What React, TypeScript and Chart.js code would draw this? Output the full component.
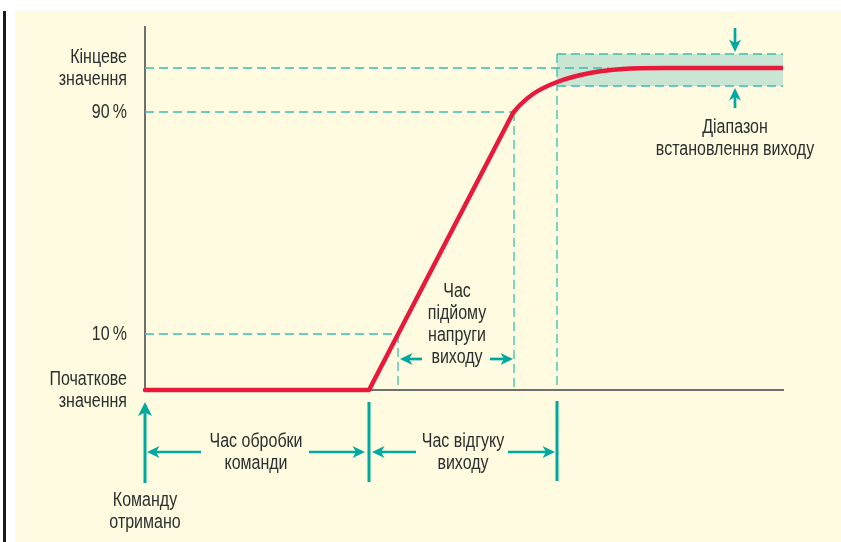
import React, { useEffect, useRef } from 'react';
import { Chart, registerables } from 'chart.js';

Chart.register(...registerables);

const FONT = "'Liberation Sans', Arial, 'DejaVu Sans', sans-serif";
const FONT_SIZE = 20;
const TEXT_SX = 0.8; // condensed look
const TEXT = '#2e2e2e';
const RED = '#e81a3b';
const TEAL = '#00a99d';
const GUIDE = '#3dbdaf';
const BAND = '#c8e6d3';
const AXIS = '#6f6f70';

// Scale extents (schematic time / output units)
const X_MAX = 638;
const Y_MAX = 363;

// Output levels on the y axis
const levelValues = [0, 56, 278, 322];
const levelLabels: string[][] = [['Початкове', 'значення'], ['10\u2009%'], ['90\u2009%'], ['Кінцеве', 'значення']];

// Output curve: idle + linear ramp
const rampX = [0, 224, 368];
const rampY = [0, 0, 277];
// Output curve: settling
const settleX = [368, 375, 388, 412, 445, 478, 520, 638];
const settleY = [277, 285, 296, 308, 317, 321, 322, 322];

// Settling band
const bandX = [412, 638];
const bandHigh = 336;
const bandLow = 304;

// Dashed guide segments [x1, y1, x2, y2]
const guideSegments = [
  [0, 322, 464, 322],
  [0, 278, 368, 278],
  [0, 56, 253, 56],
  [253, 56, 253, 0],
  [369, 278, 369, 0],
  [412, 336, 412, 0],
];

// Arrows [fromX, fromY, tipX, tipY]
const arrowSegments = [
  [0, -93, 0, -12],
  [56, -62, 2, -62],
  [164, -62, 220, -62],
  [271, -62, 227, -62],
  [363, -62, 410, -62],
  [277, 31, 255, 31],
  [345, 31, 368, 31],
  [590, 362, 590, 338],
  [590, 282, 590, 302],
];
// Vertical marker bars [x, y1, y2]
const markerBars = [
  [224, -12, -92],
  [412, -11, -91],
];
// Notes: x, first line y, lines
const notes: { x: number; y: number; lines: string[] }[] = [
  { x: 0, y: -110, lines: ['Команду', 'отримано'] },
  { x: 111, y: -51, lines: ['Час обробки', 'команди'] },
  { x: 318, y: -51, lines: ['Час відгуку', 'виходу'] },
  { x: 312, y: 99, lines: ['Час', 'підйому', 'напруги', 'виходу'] },
  { x: 590, y: 263, lines: ['Діапазон', 'встановлення виходу'] },
];
const LINE_GAP = 22;

const toPts = (xs: number[], ys: number[]) => xs.map((x, i) => ({ x, y: ys[i] }));

function drawText(ctx: CanvasRenderingContext2D, t: string, x: number, y: number) {
  ctx.save();
  ctx.translate(x, y);
  ctx.scale(TEXT_SX, 1);
  ctx.fillText(t, 0, 0);
  ctx.restore();
}

const annotations = {
  id: 'annotations',
  afterDatasetsDraw(chart: any) {
    const { ctx, scales } = chart;
    const xs = scales.x;
    const ys = scales.y;
    const px = (v: number) => xs.getPixelForValue(v);
    const py = (v: number) => ys.getPixelForValue(v);
    ctx.save();
    ctx.strokeStyle = TEAL;
    ctx.fillStyle = TEAL;
    ctx.lineCap = 'butt';
    for (const [x1, y1, x2, y2] of arrowSegments) {
      const ax = px(x1), ay = py(y1), bx = px(x2), by = py(y2);
      const ang = Math.atan2(by - ay, bx - ax);
      const cos = Math.cos(ang), sin = Math.sin(ang);
      const big = Math.abs(by - ay) > 40;
      const L = big ? 14 : 12.5;
      const W = big ? 7 : 6;
      const notch = 3.5;
      ctx.lineWidth = big ? 3 : 2.7;
      ctx.beginPath();
      ctx.moveTo(ax, ay);
      ctx.lineTo(bx - cos * (L - notch), by - sin * (L - notch));
      ctx.stroke();
      const cx = bx - cos * L, cy = by - sin * L;
      const nx = -sin, ny = cos;
      ctx.beginPath();
      ctx.moveTo(bx, by);
      ctx.lineTo(cx + nx * W, cy + ny * W);
      ctx.lineTo(bx - cos * (L - notch), by - sin * (L - notch));
      ctx.lineTo(cx - nx * W, cy - ny * W);
      ctx.closePath();
      ctx.fill();
    }
    ctx.lineWidth = 3;
    for (const [x, y1, y2] of markerBars) {
      ctx.beginPath();
      ctx.moveTo(px(x), py(y1));
      ctx.lineTo(px(x), py(y2));
      ctx.stroke();
    }
    ctx.fillStyle = TEXT;
    ctx.font = `${FONT_SIZE}px ${FONT}`;
    ctx.textBaseline = 'middle';
    ctx.textAlign = 'center';
    for (const n of notes) {
      n.lines.forEach((t, i) => drawText(ctx, t, px(n.x), py(n.y) + i * LINE_GAP));
    }
    // y-axis level labels, placed from the axis ticks
    ctx.textAlign = 'right';
    const labelX = ys.left + ys.width - 18;
    ys.ticks.forEach((tk: any, i: number) => {
      const lines = levelLabels[i] || [];
      const y0 = py(tk.value) - ((lines.length - 1) * LINE_GAP) / 2;
      lines.forEach((t, j) => drawText(ctx, t, labelX, y0 + j * LINE_GAP));
    });
    ctx.restore();
  },
};

export default function App() {
  const ref = useRef<HTMLCanvasElement | null>(null);
  useEffect(() => {
    if (!ref.current) return;
    const guideSets = guideSegments.map(([x1, y1, x2, y2]) => ({
      type: 'line' as const,
      data: [{ x: x1, y: y1 }, { x: x2, y: y2 }],
      borderColor: GUIDE,
      borderWidth: 1.3,
      borderDash: [9, 5],
      pointRadius: 0,
      fill: false,
      clip: false as any,
    }));
    const chart = new Chart(ref.current, {
      type: 'scatter',
      data: {
        datasets: [
          {
            type: 'line',
            data: toPts(rampX, rampY),
            borderColor: RED,
            borderWidth: 4.5,
            pointRadius: 0,
            tension: 0,
            borderCapStyle: 'round',
            borderJoinStyle: 'round',
            clip: false as any,
          },
          {
            type: 'line',
            data: toPts(settleX, settleY),
            borderColor: RED,
            borderWidth: 4.5,
            pointRadius: 0,
            cubicInterpolationMode: 'monotone',
            borderCapStyle: 'butt',
            clip: false as any,
          },
          ...guideSets,
          {
            type: 'line',
            data: bandX.map((x) => ({ x, y: bandLow })),
            borderColor: GUIDE,
            borderWidth: 1.3,
            borderDash: [9, 5],
            pointRadius: 0,
            fill: false,
          },
          {
            type: 'line',
            data: bandX.map((x) => ({ x, y: bandHigh })),
            borderColor: GUIDE,
            borderWidth: 1.3,
            borderDash: [9, 5],
            pointRadius: 0,
            backgroundColor: BAND,
            fill: '-1',
          },
        ] as any,
      },
      options: {
        animation: false,
        responsive: false,
        maintainAspectRatio: false,
        layout: { padding: { left: 0, right: 58, top: 27, bottom: 152 } },
        plugins: { legend: { display: false }, tooltip: { enabled: false }, filler: { propagate: false } },
        scales: {
          x: {
            type: 'linear',
            min: 0,
            max: X_MAX,
            grid: { display: false, drawTicks: false },
            border: { display: true, color: AXIS, width: 2 },
            ticks: { display: false },
            afterFit: (s: any) => {
              s.height = 0;
              s.paddingLeft = 0;
              s.paddingRight = 0;
            },
          },
          y: {
            type: 'linear',
            min: 0,
            max: Y_MAX,
            grid: { display: false, drawTicks: false },
            border: { display: true, color: AXIS, width: 2 },
            afterBuildTicks: (s: any) => {
              s.ticks = levelValues.map((v) => ({ value: v }));
            },
            ticks: { display: false },
            afterFit: (s: any) => {
              s.width = 145;
              s.paddingTop = 0;
              s.paddingBottom = 0;
            },
          },
        },
      },
      plugins: [annotations],
    });
    return () => chart.destroy();
  }, []);

  return (
    <div style={{ position: 'fixed', left: 0, top: 0, width: 841, height: 542, background: '#ffffff', overflow: 'hidden' }}>
      <div style={{ position: 'absolute', left: 3, top: 11, width: 3, height: 531, background: '#1a1a1a' }} />
      <div style={{ position: 'absolute', left: 15, top: 11, width: 826, height: 531, background: '#fefbe0' }} />
      <canvas ref={ref} width={841} height={542} style={{ position: 'absolute', left: 0, top: 0, width: 841, height: 542 }} />
    </div>
  );
}
